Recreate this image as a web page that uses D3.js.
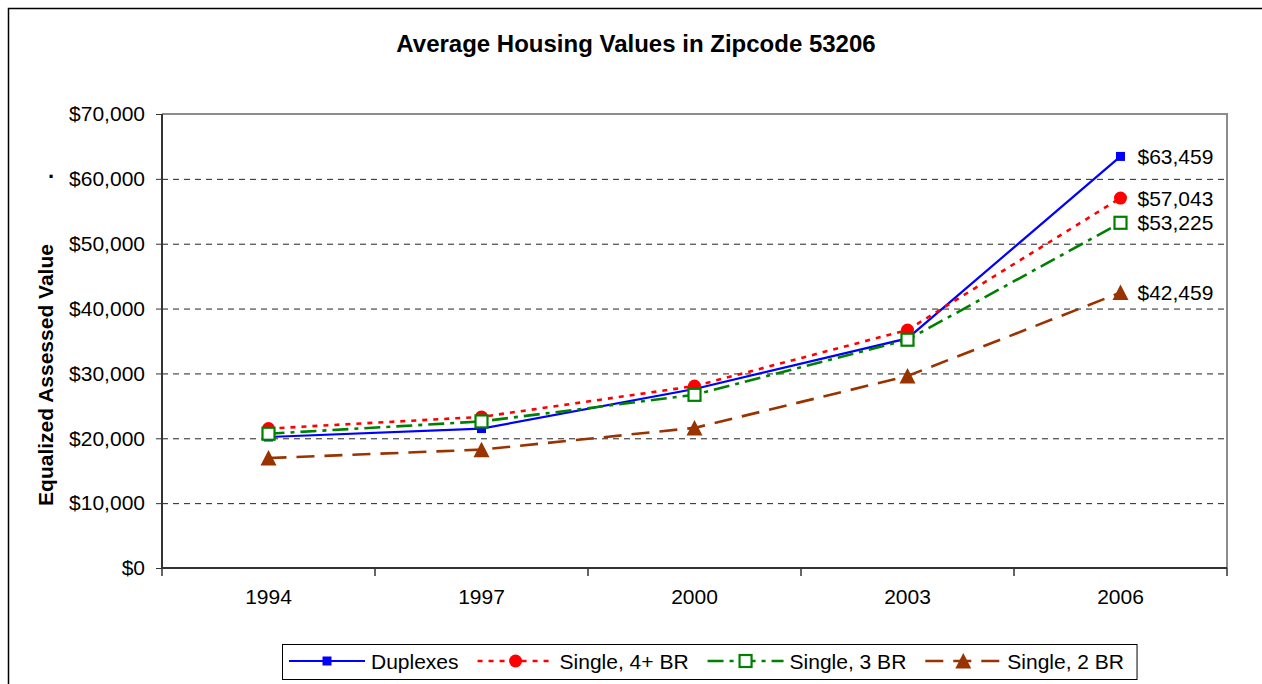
<!DOCTYPE html>
<html>
<head>
<meta charset="utf-8">
<script src="https://cdn.jsdelivr.net/npm/d3@7"></script>
<style>
  body { margin: 0; background: #fff; }
  text { font-family: Arial, "Liberation Sans", sans-serif; }
</style>
</head>
<body>
<div id="chart"></div>
<script>
// data
var years = ["1994", "1997", "2000", "2003", "2006"];
var duplexes = [20200, 21500, 27600, 35400, 63459];
var single4 = [21500, 23300, 28050, 36700, 57043];
var single3 = [20700, 22600, 26700, 35200, 53225];
var single2 = [16950, 18250, 21600, 29600, 42459];
var yTicks = [0, 10000, 20000, 30000, 40000, 50000, 60000, 70000];

var series = [
  { name: "Duplexes", values: duplexes, color: "#0000ff", dash: null, marker: "square" },
  { name: "Single, 4+ BR", values: single4, color: "#ff0000", dash: "5,6", marker: "circle" },
  { name: "Single, 3 BR", values: single3, color: "#008000", dash: "16,6,4,6", marker: "open" },
  { name: "Single, 2 BR", values: single2, color: "#993300", dash: "18,10", marker: "triangle" }
];

var W = 1262, H = 684;
var margin = { top: 114, right: 35, bottom: 116, left: 162 },
  width = W - margin.left - margin.right,
  height = H - margin.top - margin.bottom;

var root = d3.select("#chart")
  .append("svg")
  .attr("width", W)
  .attr("height", H);

// outer chart border (cut off at right and bottom)
root.append("rect")
  .attr("x", 8.5).attr("y", 8.5)
  .attr("width", 1400).attr("height", 900)
  .attr("fill", "none").attr("stroke", "#000").attr("stroke-width", 1.5);

root.append("text")
  .attr("x", 636).attr("y", 52)
  .attr("text-anchor", "middle")
  .style("font-size", "24px").style("font-weight", "bold")
  .text("Average Housing Values in Zipcode 53206");

// stray dot left of the axis
root.append("text")
  .attr("x", 48).attr("y", 184)
  .style("font-size", "22px").style("font-weight", "bold")
  .text("·");

root.append("text")
  .attr("transform", "translate(53,375) rotate(-90)")
  .attr("text-anchor", "middle")
  .style("font-size", "21px").style("font-weight", "bold")
  .text("Equalized Assessed Value");

var svg = root.append("g")
  .attr("transform", "translate(" + margin.left + "," + margin.top + ")");

var x = d3.scaleBand()
  .domain(years)
  .range([0, width]);

var y = d3.scaleLinear()
  .domain([0, 70000])
  .range([height, 0]);

// gridlines
svg.append("g")
  .selectAll("line")
  .data(yTicks.filter(function (d) { return d > 0 && d < 70000; }))
  .enter()
  .append("line")
  .attr("x1", 0).attr("x2", width)
  .attr("y1", function (d) { return y(d) + 0.5; })
  .attr("y2", function (d) { return y(d) + 0.5; })
  .attr("stroke", "#222").attr("stroke-width", 1)
  .attr("stroke-dasharray", "6,5");

// plot area border top/right
svg.append("path")
  .attr("d", "M0," + y(70000) + "H" + width + "V" + height)
  .attr("fill", "none").attr("stroke", "#8c8c8c").attr("stroke-width", 2);

// Y axis
var yAxis = svg.append("g")
  .call(d3.axisLeft(y).tickValues(yTicks).tickFormat(d3.format("$,")).tickSize(6).tickPadding(11));
yAxis.select(".domain").attr("stroke", "#333").attr("stroke-width", 2).attr("d", "M0,0V" + height);
yAxis.selectAll(".tick line").attr("stroke", "#333");
yAxis.selectAll("text").style("font-size", "21px").attr("fill", "#000");

// X axis: labels at centres, ticks at band edges
var xAxis = svg.append("g")
  .attr("transform", "translate(0," + height + ")")
  .call(d3.axisBottom(x).tickSize(0).tickPadding(21));
xAxis.select(".domain").attr("stroke", "#333").attr("stroke-width", 2).attr("d", "M0,0H" + width);
xAxis.selectAll("text").style("font-size", "21px").attr("fill", "#000");
xAxis.selectAll(".edge")
  .data(years.map(function (d) { return x(d); }).concat([width]))
  .enter()
  .append("line")
  .attr("class", "edge")
  .attr("x1", function (d) { return d; }).attr("x2", function (d) { return d; })
  .attr("y1", 0).attr("y2", 8)
  .attr("stroke", "#333").attr("stroke-width", 1.5);

var cx = function (i) { return x(years[i]) + x.bandwidth() / 2; };

var line = d3.line()
  .x(function (d, i) { return cx(i); })
  .y(function (d) { return y(d); });

// lines
series.forEach(function (s) {
  svg.append("path")
    .datum(s.values)
    .attr("fill", "none")
    .attr("stroke", s.color)
    .attr("stroke-width", s.dash ? 2.6 : 2.2)
    .attr("stroke-dasharray", s.dash)
    .attr("d", line);
});

function drawMarker(g, s, px, py) {
  if (s.marker === "square") {
    g.append("rect").attr("x", px - 4.5).attr("y", py - 4.5).attr("width", 9).attr("height", 9)
      .attr("fill", s.color);
  } else if (s.marker === "circle") {
    g.append("circle").attr("cx", px).attr("cy", py).attr("r", 6.5).attr("fill", s.color);
  } else if (s.marker === "open") {
    g.append("rect").attr("x", px - 6).attr("y", py - 6).attr("width", 12).attr("height", 12)
      .attr("fill", "#fff").attr("stroke", s.color).attr("stroke-width", 2.2);
  } else {
    g.append("path")
      .attr("d", "M" + px + "," + (py - 8) + "L" + (px + 8) + "," + (py + 7.5) + "L" + (px - 8) + "," + (py + 7.5) + "Z")
      .attr("fill", s.color);
  }
}

// markers
series.forEach(function (s) {
  var g = svg.append("g");
  s.values.forEach(function (v, i) { drawMarker(g, s, cx(i), y(v)); });
});

// end labels
svg.append("g")
  .selectAll("text")
  .data(series)
  .enter()
  .append("text")
  .attr("x", cx(years.length - 1) + 17)
  .attr("y", function (d) { return y(d.values[d.values.length - 1]); })
  .attr("dy", "0.36em")
  .style("font-size", "21px")
  .text(function (d) { return d3.format("$,")(d.values[d.values.length - 1]); });

// legend
var leg = root.append("g");
var legBox = leg.append("rect")
  .attr("y", 644.5).attr("height", 35)
  .attr("fill", "#fff").attr("stroke", "#000").attr("stroke-width", 1);
var lx = 289, ly = 661;
series.forEach(function (s, i) {
  leg.append("line")
    .attr("x1", lx).attr("x2", lx + 76)
    .attr("y1", ly).attr("y2", ly)
    .attr("stroke", s.color).attr("stroke-width", s.dash ? 2.6 : 2.2)
    .attr("stroke-dasharray", s.dash);
  drawMarker(leg, s, lx + 38, ly);
  var t = leg.append("text")
    .attr("x", lx + 82).attr("y", ly).attr("dy", "0.36em")
    .style("font-size", "21px")
    .text(s.name);
  lx = lx + 82 + t.node().getComputedTextLength() + 19;
});
legBox.attr("x", 282.5).attr("width", lx - 282.5 - 6);
</script>
</body>
</html>
